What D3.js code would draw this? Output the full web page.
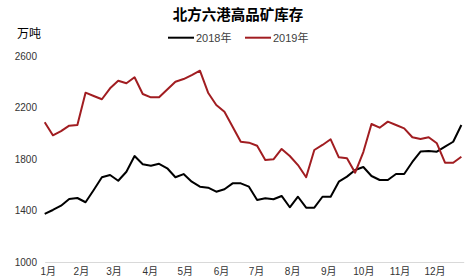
<!DOCTYPE html>
<html><head><meta charset="utf-8">
<script src="https://cdn.jsdelivr.net/npm/d3@7"></script>
<style>body{margin:0;background:#fff}svg{display:block}</style>
</head><body><svg id="c" width="474" height="278"></svg>
<script>
const title = "北方六港高品矿库存";
const unit = "万吨";
const seriesNames = ["2018年", "2019年"];
const seriesColors = ["#000000", "#a11d21"];
const yTicks = [1000, 1400, 1800, 2200, 2600];
const firstWeek = "2019-01-01";
const v2018 = [1373,1404,1437,1489,1497,1464,1559,1658,1676,1631,1701,1823,1759,1748,1763,1728,1658,1683,1624,1585,1577,1546,1565,1611,1611,1585,1482,1495,1487,1513,1425,1507,1422,1422,1507,1507,1624,1663,1715,1738,1668,1637,1637,1683,1683,1777,1858,1862,1857,1896,1934,2064];
const v2019 = [2085,1984,2017,2059,2064,2315,2289,2264,2349,2408,2388,2435,2305,2279,2279,2340,2400,2421,2452,2486,2315,2219,2167,2051,1934,1927,1903,1792,1798,1878,1823,1753,1658,1870,1909,1953,1813,1805,1694,1854,2072,2043,2090,2064,2038,1969,1955,1969,1922,1771,1771,1818];

const svg = d3.select("#c");
const parse = d3.timeParse("%Y-%m-%d");
const start = parse(firstWeek);
const dates = v2018.map((_, i) => d3.timeDay.offset(start, 7 * i));
const x = d3.scaleTime().domain([start, d3.timeDay.offset(start, 359)]).range([44.7, 463.7]);
const y = d3.scaleLinear().domain([1000, 2600]).range([262, 56]);

const cjk = "'Noto Sans CJK SC', sans-serif";
const num = "'Liberation Sans', Arial, sans-serif";

svg.append("text").attr("x", 238).attr("y", 20).attr("text-anchor", "middle")
  .attr("font-family", cjk).attr("font-weight", "bold").attr("font-size", 14.5)
  .attr("fill", "#000").text(title);
svg.append("text").attr("x", 17).attr("y", 37.5)
  .attr("font-family", cjk).attr("font-size", 12).attr("fill", "#000").text(unit);

// legend
const lg = svg.append("g");
const legX = [168, 245];
seriesNames.forEach((n, i) => {
  lg.append("line").attr("x1", legX[i]).attr("x2", legX[i] + 26).attr("y1", 37.7).attr("y2", 37.7)
    .attr("stroke", seriesColors[i]).attr("stroke-width", 2);
  lg.append("text").attr("x", legX[i] + 28).attr("y", 41.5)
    .attr("font-family", num).attr("font-size", 11).attr("fill", "#404040").text(n.replace("年", ""))
    .append("tspan").attr("font-family", cjk).text("年");
});

// y axis
const ya = svg.append("g").attr("transform", "translate(44,0)")
  .call(d3.axisLeft(y).tickValues(yTicks).tickSize(0).tickPadding(7).tickFormat(d3.format("d")));
ya.select(".domain").remove();
ya.selectAll("text").attr("font-family", num).attr("font-size", 10).attr("fill", "#333");

// x axis
const xa = svg.append("g").attr("transform", "translate(0,262)")
  .call(d3.axisBottom(x).ticks(d3.timeMonth.every(1)).tickSize(0).tickPadding(4)
    .tickFormat(d => (d.getMonth() + 1)));
xa.select(".domain").attr("stroke", "#d9d9d9").attr("stroke-width", 1.2);
xa.selectAll(".tick text").attr("font-family", num).attr("font-size", 10).attr("fill", "#333")
  .attr("dy", "0.9em")
  .append("tspan").attr("font-family", cjk).text("月");
xa.selectAll(".tick").filter((d, i) => i === 0).select("text").attr("dx", 3);

const line = d3.line().x((d, i) => x(dates[i])).y(d => y(d));
[v2018, v2019].forEach((vals, i) => {
  svg.append("path").datum(vals).attr("d", line).attr("fill", "none")
    .attr("stroke", seriesColors[i]).attr("stroke-width", 2).attr("stroke-linejoin", "round");
});
</script></body></html>
